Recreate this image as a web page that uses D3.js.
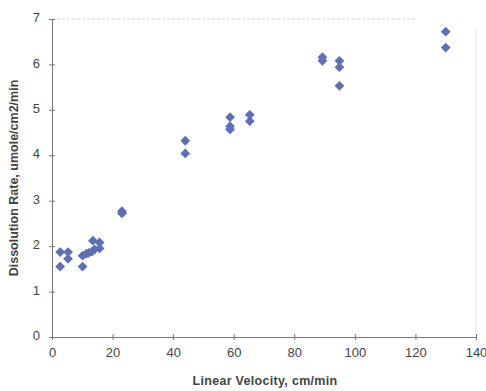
<!DOCTYPE html>
<html>
<head>
<meta charset="utf-8">
<script src="https://cdn.jsdelivr.net/npm/d3@7"></script>
<style>
  body { margin: 0; background: #fff; }
  svg { display: block; font-family: Arial, "Liberation Sans", sans-serif; }
</style>
</head>
<body>
<svg width="486" height="391"></svg>
<script>
// velocity (cm/min) and dissolution rate (umole/cm2/min)
var velocity = [2.7, 2.7, 5.3, 5.3, 10.1, 10.1, 11.3, 12.1, 13.2, 13.5, 14.1, 15.7, 15.7,
                23.1, 23.1, 44, 44, 58.8, 58.8, 58.8, 65.3, 65.3, 89.3, 89.3,
                94.9, 94.9, 94.9, 130, 130];
var rate = [1.55, 1.87, 1.87, 1.72, 1.79, 1.55, 1.83, 1.85, 1.88, 2.12, 1.93, 2.08, 1.95,
            2.77, 2.72, 4.32, 4.04, 4.84, 4.64, 4.57, 4.89, 4.75, 6.16, 6.08,
            6.08, 5.94, 5.53, 6.72, 6.37];
var xTicks = [0, 20, 40, 60, 80, 100, 120, 140];
var yTicks = [0, 1, 2, 3, 4, 5, 6, 7];

var svg = d3.select("svg");
var pLeft = 52, pRight = 476, pTop = 19, pBottom = 337;

var x = d3.scaleLinear().domain([0, 140]).range([pLeft, pRight]);
var y = d3.scaleLinear().domain([0, 7]).range([pBottom, pTop]);

// faint plot border (top and right)
svg.append("line").attr("x1", pLeft).attr("x2", pRight - 60)
   .attr("y1", pTop).attr("y2", pTop)
   .attr("stroke", "#ccc").attr("stroke-dasharray", "3,2").attr("stroke-width", 0.8);
svg.append("line").attr("x1", pRight).attr("x2", pRight)
   .attr("y1", pTop + 10).attr("y2", pBottom)
   .attr("stroke", "#ddd").attr("stroke-width", 0.8);

// axes
var xAxis = svg.append("g").attr("transform", "translate(0," + pBottom + ")")
   .call(d3.axisBottom(x).tickValues(xTicks).tickFormat(d3.format("d")).tickSize(3).tickSizeOuter(0));
var yAxis = svg.append("g").attr("transform", "translate(" + pLeft + ",0)")
   .call(d3.axisLeft(y).tickValues(yTicks).tickFormat(d3.format("d")).tickSize(3).tickSizeOuter(0));

[xAxis, yAxis].forEach(function(ax){
  ax.select(".domain").attr("stroke", "#777");
  ax.selectAll(".tick line").attr("stroke", "#777");
  ax.selectAll(".tick text").attr("fill", "#444").style("font-size", "13px");
});
// ticks cross the axis line
xAxis.selectAll(".tick line").attr("y1", -3).attr("y2", 3);
xAxis.selectAll(".tick text").attr("y", 11);
yAxis.selectAll(".tick line").attr("x1", -3).attr("x2", 3);
yAxis.selectAll(".tick text").attr("x", -12).attr("dy", "0.2em");

// axis titles
svg.append("text").attr("x", 265).attr("y", 385)
   .attr("text-anchor", "middle").attr("fill", "#444")
   .style("font-size", "12.5px").style("font-weight", "bold")
   .style("letter-spacing", "0.3px")
   .text("Linear Velocity, cm/min");
svg.append("text").attr("transform", "translate(18,178) rotate(-90)")
   .attr("text-anchor", "middle").attr("fill", "#444")
   .style("font-size", "12.5px").style("font-weight", "bold")
   .text("Dissolution Rate, umole/cm2/min");

// diamond markers
var diamond = d3.symbol().type(d3.symbolSquare).size(48);
svg.selectAll(".pt").data(velocity).enter().append("path")
   .attr("class", "pt")
   .attr("d", diamond)
   .attr("transform", function(d, i){
     return "translate(" + x(d) + "," + y(rate[i]) + ") rotate(45)";
   })
   .attr("fill", "#5f70b2");
</script>
</body>
</html>
